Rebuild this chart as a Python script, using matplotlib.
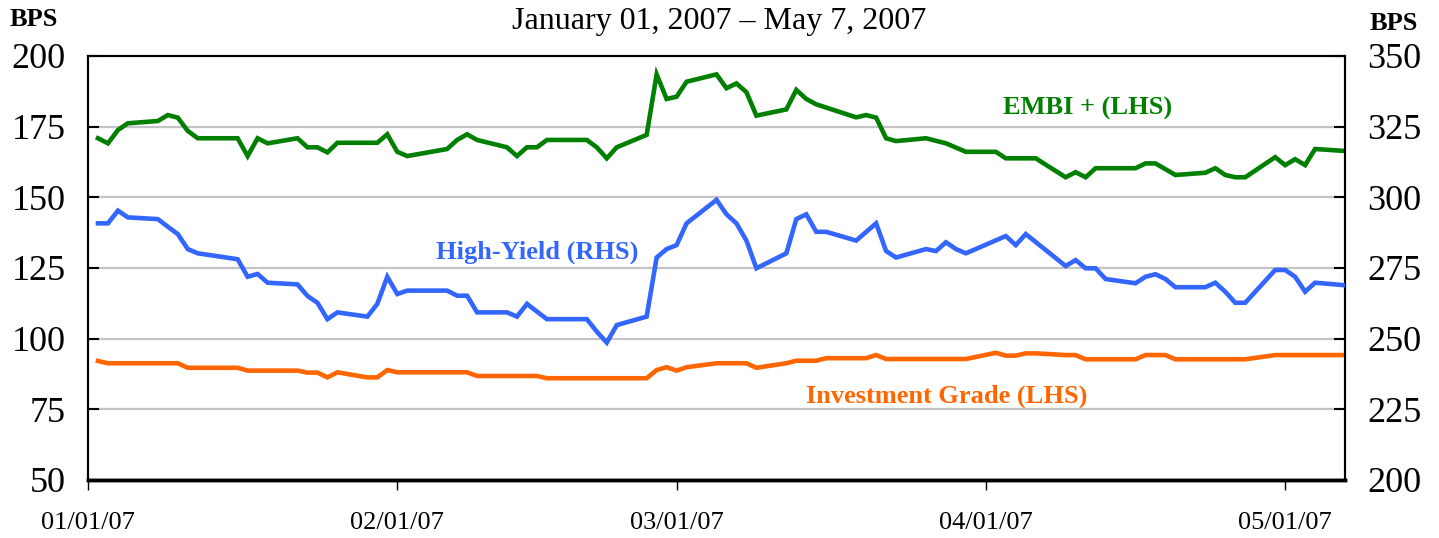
import pandas as pd
import matplotlib
matplotlib.use('Agg')
import matplotlib.pyplot as plt
import matplotlib.dates as mdates

plt.rcParams['font.family'] = ['Liberation Serif', 'DejaVu Serif']

# EMBI+ spread (left axis)
embi_dates = ['2007-01-02', '2007-01-03', '2007-01-04', '2007-01-05', '2007-01-08', '2007-01-09',
              '2007-01-10', '2007-01-11', '2007-01-12', '2007-01-16', '2007-01-17', '2007-01-18',
              '2007-01-19', '2007-01-22', '2007-01-23', '2007-01-24', '2007-01-25', '2007-01-26',
              '2007-01-29', '2007-01-30', '2007-01-31', '2007-02-01', '2007-02-02', '2007-02-06',
              '2007-02-07', '2007-02-08', '2007-02-09', '2007-02-12', '2007-02-13', '2007-02-14',
              '2007-02-15', '2007-02-16', '2007-02-20', '2007-02-21', '2007-02-22', '2007-02-23',
              '2007-02-26', '2007-02-27', '2007-02-28', '2007-03-01', '2007-03-02', '2007-03-05',
              '2007-03-06', '2007-03-07', '2007-03-08', '2007-03-09', '2007-03-12', '2007-03-13',
              '2007-03-14', '2007-03-15', '2007-03-19', '2007-03-20', '2007-03-21', '2007-03-22',
              '2007-03-23', '2007-03-26', '2007-03-28', '2007-03-30', '2007-04-02', '2007-04-03',
              '2007-04-06', '2007-04-09', '2007-04-10', '2007-04-11', '2007-04-12', '2007-04-16',
              '2007-04-17', '2007-04-18', '2007-04-20', '2007-04-23', '2007-04-24', '2007-04-25',
              '2007-04-26', '2007-04-27', '2007-04-30', '2007-05-01', '2007-05-02', '2007-05-03',
              '2007-05-04', '2007-05-07']
embi_vals = [170.9, 169.1, 173.8, 176.2, 177.0, 179.1,
             178.2, 173.5, 170.9, 170.9, 164.6, 170.9,
             169.1, 170.9, 167.7, 167.7, 165.9, 169.3,
             169.3, 169.3, 172.3, 166.1, 164.6, 167.1,
             170.3, 172.3, 170.3, 167.7, 164.6, 167.7,
             167.7, 170.3, 170.3, 167.7, 163.8, 167.7,
             172.1, 193.5, 184.8, 185.6, 190.9, 193.5,
             188.6, 190.3, 187.2, 178.9, 181.1, 188.0,
             184.8, 182.9, 178.3, 179.1, 178.2, 170.9,
             169.9, 170.9, 169.1, 166.1, 166.1, 163.8,
             163.8, 157.1, 158.9, 157.1, 160.3, 160.3,
             162.0, 162.0, 157.9, 158.7, 160.3, 157.9,
             157.1, 157.1, 164.2, 161.4, 163.5, 161.4,
             167.1, 166.4]

# High-yield spread (right axis)
hy_dates = ['2007-01-02', '2007-01-03', '2007-01-04', '2007-01-05', '2007-01-08', '2007-01-09',
            '2007-01-10', '2007-01-11', '2007-01-12', '2007-01-16', '2007-01-17', '2007-01-18',
            '2007-01-19', '2007-01-22', '2007-01-23', '2007-01-24', '2007-01-25', '2007-01-26',
            '2007-01-29', '2007-01-30', '2007-01-31', '2007-02-01', '2007-02-02', '2007-02-06',
            '2007-02-07', '2007-02-08', '2007-02-09', '2007-02-12', '2007-02-13', '2007-02-14',
            '2007-02-16', '2007-02-20', '2007-02-21', '2007-02-22', '2007-02-23', '2007-02-26',
            '2007-02-27', '2007-02-28', '2007-03-01', '2007-03-02', '2007-03-05', '2007-03-06',
            '2007-03-07', '2007-03-08', '2007-03-09', '2007-03-12', '2007-03-13', '2007-03-14',
            '2007-03-15', '2007-03-16', '2007-03-19', '2007-03-21', '2007-03-22', '2007-03-23',
            '2007-03-26', '2007-03-27', '2007-03-28', '2007-03-29', '2007-03-30', '2007-04-03',
            '2007-04-04', '2007-04-05', '2007-04-09', '2007-04-10', '2007-04-11', '2007-04-12',
            '2007-04-13', '2007-04-16', '2007-04-17', '2007-04-18', '2007-04-19', '2007-04-20',
            '2007-04-23', '2007-04-24', '2007-04-25', '2007-04-26', '2007-04-27', '2007-04-30',
            '2007-05-01', '2007-05-02', '2007-05-03', '2007-05-04', '2007-05-07']
hy_vals = [290.8, 290.8, 295.3, 292.9, 292.3, 289.6,
           287.0, 281.7, 280.2, 278.1, 271.9, 272.9,
           269.8, 269.2, 265.1, 262.7, 256.9, 259.3,
           257.8, 262.3, 271.9, 265.8, 267.0, 267.0,
           265.2, 265.2, 259.3, 259.3, 257.8, 262.3,
           256.9, 256.9, 252.5, 248.6, 254.8, 257.8,
           278.7, 281.7, 283.1, 290.8, 299.1, 294.0,
           290.8, 284.7, 274.9, 280.2, 292.3, 294.0,
           287.8, 287.8, 284.7, 290.8, 281.0, 278.7,
           281.7, 281.0, 284.1, 281.7, 280.2, 286.3,
           283.1, 287.0, 275.7, 277.8, 274.9, 274.9,
           271.1, 269.6, 271.9, 272.8, 271.1, 268.2,
           268.2, 269.8, 266.6, 262.7, 262.7, 274.3,
           274.3, 271.9, 266.6, 269.8, 268.9]

# Investment grade spread (left axis)
ig_dates = ['2007-01-02', '2007-01-03', '2007-01-10', '2007-01-11', '2007-01-16', '2007-01-17',
            '2007-01-22', '2007-01-23', '2007-01-24', '2007-01-25', '2007-01-26', '2007-01-29',
            '2007-01-30', '2007-01-31', '2007-02-01', '2007-02-08', '2007-02-09', '2007-02-15',
            '2007-02-16', '2007-02-26', '2007-02-27', '2007-02-28', '2007-03-01', '2007-03-02',
            '2007-03-05', '2007-03-08', '2007-03-09', '2007-03-12', '2007-03-13', '2007-03-15',
            '2007-03-16', '2007-03-20', '2007-03-21', '2007-03-22', '2007-03-30', '2007-04-02',
            '2007-04-03', '2007-04-04', '2007-04-05', '2007-04-06', '2007-04-09', '2007-04-10',
            '2007-04-11', '2007-04-16', '2007-04-17', '2007-04-19', '2007-04-20', '2007-04-27',
            '2007-04-30', '2007-05-07']
ig_vals = [92.1, 91.3, 91.3, 89.7, 89.7, 88.7,
           88.7, 88.0, 88.0, 86.3, 88.1, 86.3,
           86.3, 88.9, 88.1, 88.1, 86.8, 86.8,
           86.0, 86.0, 88.9, 89.9, 88.7, 89.9,
           91.3, 91.3, 89.7, 91.3, 92.2, 92.2,
           93.1, 93.1, 94.2, 92.8, 92.8, 95.0,
           94.0, 94.0, 94.8, 94.8, 94.2, 94.2,
           92.7, 92.7, 94.2, 94.2, 92.7, 92.7,
           94.2, 94.2]

left_ticks = [50, 75, 100, 125, 150, 175, 200]
right_ticks = [200, 225, 250, 275, 300, 325, 350]
x_ticks = ['2007-01-01', '2007-02-01', '2007-03-01', '2007-04-01', '2007-05-01']

GREEN = '#007F00'
BLUE = '#3366FF'
ORANGE = '#FF6600'

fig = plt.figure(figsize=(14.39, 5.38), dpi=100)
ax = fig.add_axes([88 / 1439, 1 - 480 / 538, (1345 - 88) / 1439, (480 - 56) / 538])
ax2 = ax.twinx()

ax.plot(pd.to_datetime(embi_dates), embi_vals, color=GREEN, lw=3.3, solid_joinstyle='miter', zorder=3)
ax.plot(pd.to_datetime(ig_dates), ig_vals, color=ORANGE, lw=3.3, solid_joinstyle='miter', zorder=3)
ax2.plot(pd.to_datetime(hy_dates), hy_vals, color=BLUE, lw=3.3, solid_joinstyle='miter', zorder=3)

ax.set_xlim(pd.Timestamp('2007-01-01'), pd.Timestamp('2007-05-07'))
ax.set_ylim(50, 200)
ax2.set_ylim(200, 350)
ax.set_yticks(left_ticks)
ax2.set_yticks(right_ticks)
ax.set_xticks(pd.to_datetime(x_ticks))
ax.xaxis.set_major_formatter(mdates.DateFormatter('%m/%d/%y'))

for v in left_ticks[1:-1]:
    ax.axhline(v, color='#c4c4c4', lw=1.6, zorder=1)

ax.tick_params(axis='y', direction='in', length=8, width=1.5, pad=16, labelsize=26)
ax2.tick_params(axis='y', direction='in', length=8, width=1.5, pad=16, labelsize=26)
ax.tick_params(axis='x', direction='out', length=7, width=1, pad=16, labelsize=19)

for a in (ax, ax2):
    for s in a.spines.values():
        s.set_linewidth(1.5)
        s.set_color('black')
ax.spines['bottom'].set_linewidth(2.5)
ax2.spines['bottom'].set_linewidth(2.5)

fig.text(10 / 1439, 1 - 19 / 538, 'BPS', fontsize=19, fontweight='bold', ha='left', va='center')
fig.text(1370 / 1439, 1 - 23 / 538, 'BPS', fontsize=19, fontweight='bold', ha='left', va='center')
fig.text(719 / 1439, 1 - 22 / 538, 'January 01, 2007 \u2013 May 7, 2007', fontsize=23,
         ha='center', va='center')

fig.text(1088 / 1439, 1 - 108 / 538, 'EMBI + (LHS)', color=GREEN, fontsize=19,
         fontweight='bold', ha='center', va='center')
fig.text(537 / 1439, 1 - 252 / 538, 'High-Yield (RHS)', color=BLUE, fontsize=19,
         fontweight='bold', ha='center', va='center')
fig.text(947 / 1439, 1 - 396 / 538, 'Investment Grade (LHS)', color=ORANGE, fontsize=19,
         fontweight='bold', ha='center', va='center')

fig.savefig('out.png', dpi=100)
